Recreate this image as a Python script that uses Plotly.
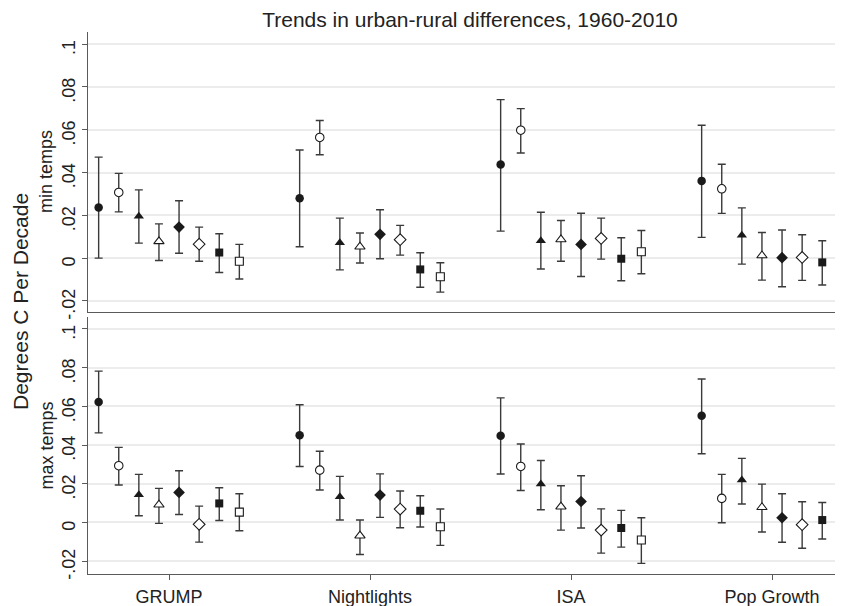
import numpy as np
import plotly.graph_objects as go

# ---------------- data ----------------
categories = ["GRUMP", "Nightlights", "ISA", "Pop Growth"]
series_names = ["S1", "S2", "S3", "S4", "S5", "S6", "S7", "S8"]

# min temps (top panel): estimate, lower CI, upper CI per series across categories
min_est = [
    [0.0237, 0.0280, 0.0438, 0.0361],
    [0.0307, 0.0564, 0.0598, 0.0324],
    [0.0196, 0.0072, 0.0081, 0.0107],
    [0.0078, 0.0053, 0.0087, 0.0012],
    [0.0145, 0.0111, 0.0064, 0.0002],
    [0.0065, 0.0086, 0.0092, 0.0003],
    [0.0026, -0.0053, -0.0003, -0.0020],
    [-0.0015, -0.0087, 0.0030, -0.0025],
]
min_lo = [
    [0.0000, 0.0053, 0.0126, 0.0097],
    [0.0216, 0.0483, 0.0491, 0.0209],
    [0.0070, -0.0055, -0.0051, -0.0028],
    [-0.0011, -0.0023, -0.0015, -0.0103],
    [0.0023, -0.0003, -0.0086, -0.0134],
    [-0.0015, 0.0014, -0.0005, -0.0104],
    [-0.0067, -0.0136, -0.0106, -0.0126],
    [-0.0098, -0.0159, -0.0073, -0.0143],
]
min_hi = [
    [0.0472, 0.0505, 0.0741, 0.0621],
    [0.0396, 0.0643, 0.0699, 0.0439],
    [0.0319, 0.0187, 0.0214, 0.0235],
    [0.0160, 0.0117, 0.0176, 0.0120],
    [0.0268, 0.0226, 0.0210, 0.0131],
    [0.0145, 0.0153, 0.0187, 0.0109],
    [0.0114, 0.0025, 0.0095, 0.0081],
    [0.0064, -0.0022, 0.0129, 0.0087],
]

# max temps (bottom panel)
max_est = [
    [0.0623, 0.0451, 0.0448, 0.0551],
    [0.0293, 0.0270, 0.0289, 0.0124],
    [0.0143, 0.0132, 0.0198, 0.0219],
    [0.0091, -0.0069, 0.0081, 0.0078],
    [0.0155, 0.0141, 0.0108, 0.0024],
    [-0.0010, 0.0069, -0.0040, -0.0012],
    [0.0098, 0.0060, -0.0029, 0.0012],
    [0.0053, -0.0023, -0.0091, -0.0014],
]
max_lo = [
    [0.0463, 0.0289, 0.0250, 0.0355],
    [0.0193, 0.0167, 0.0165, -0.0002],
    [0.0034, 0.0012, 0.0065, 0.0095],
    [-0.0005, -0.0166, -0.0040, -0.0050],
    [0.0041, 0.0026, -0.0029, -0.0103],
    [-0.0102, -0.0028, -0.0159, -0.0134],
    [0.0010, -0.0024, -0.0128, -0.0086],
    [-0.0043, -0.0119, -0.0212, -0.0136],
]
max_hi = [
    [0.0782, 0.0608, 0.0644, 0.0741],
    [0.0388, 0.0368, 0.0405, 0.0248],
    [0.0248, 0.0238, 0.0320, 0.0331],
    [0.0176, 0.0012, 0.0189, 0.0198],
    [0.0267, 0.0251, 0.0241, 0.0148],
    [0.0084, 0.0162, 0.0070, 0.0107],
    [0.0179, 0.0138, 0.0062, 0.0103],
    [0.0148, 0.0069, 0.0024, 0.0107],
]

y_tickvals = [-0.02, 0, 0.02, 0.04, 0.06, 0.08, 0.1]
y_ticktext = ["-.02", "0", ".02", ".04", ".06", ".08", ".1"]

# ---------------- styles ----------------
symbols = ["circle", "circle-open", "triangle-up", "triangle-up-open",
           "diamond", "diamond-open", "square", "square-open"]
sizes = [8.5, 8.5, 9, 9, 9, 9, 8, 8]
FONT = "Liberation Sans, Arial, Helvetica, sans-serif"
INK = "#1a1a1a"
BAR = "#3a3a3a"
AX = "#5a5a5a"
GRID = "#ececec"

n_series = len(series_names)
offsets = (np.arange(n_series) - (n_series - 1) / 2) * 0.1
cat_pos = np.arange(1, len(categories) + 1)

fig = go.Figure()


def add_panel(est, lo, hi, xa, ya):
    for i in range(n_series):
        e = np.array(est[i]); l = np.array(lo[i]); h = np.array(hi[i])
        hollow = symbols[i].endswith("-open")
        base = symbols[i].replace("-open", "")
        fig.add_trace(go.Scatter(
            x=cat_pos + offsets[i], y=e, mode="markers",
            name=series_names[i], showlegend=False,
            xaxis=xa, yaxis=ya, cliponaxis=True,
            error_y=dict(type="data", symmetric=False, array=h - e,
                         arrayminus=e - l, color=BAR, thickness=1.4, width=4),
            marker=dict(symbol=base, size=sizes[i],
                        color="white" if hollow else INK,
                        line=dict(color=INK, width=1.1 if hollow else 0)),
        ))


add_panel(min_est, min_lo, min_hi, "x2", "y2")
add_panel(max_est, max_lo, max_hi, "x", "y")

# page body has an 8px margin: figure coords = screen coords - 8
OFF = 8
W, H = 835, 606 - OFF
ml, mr, mt, mb = 88 - OFF, 0, 32 - OFF, 606 - 574
ph = H - mt - mb
pw = W - ml - mr
top_dom = [1 - (312 - 32) / ph, 1.0]
bot_dom = [0.0, 1 - (317 - 32) / ph]

px_per_cat = 201.0
first_cat_px = 169.0
xr = [1 - (first_cat_px - 88) / px_per_cat,
      1 + (88 + pw - first_cat_px) / px_per_cat]

yaxis_common = dict(
    tickvals=y_tickvals, ticktext=y_ticktext, tickangle=-90,
    showgrid=True, gridcolor=GRID, gridwidth=1.5, zeroline=False,
    showline=True, linecolor=AX, linewidth=1.3,
    ticks="outside", ticklen=5, tickcolor=AX, tickwidth=1,
    tickfont=dict(family=FONT, size=18, color="#222"),
    ticklabelshift=6, automargin=False,
)

fig.update_layout(
    width=W, height=H,
    margin=dict(l=ml, r=mr, t=mt, b=mb, pad=0, autoexpand=False),
    paper_bgcolor="white", plot_bgcolor="white",
    font=dict(family=FONT, color="#222"),
    title=dict(text="Trends in urban-rural differences, 1960-2010",
               x=(470 - OFF) / W, xref="container", xanchor="center",
               y=1 - (20 - OFF) / H, yref="container", yanchor="middle",
               font=dict(family=FONT, size=21, color="#222")),
    xaxis=dict(domain=[0, 1], anchor="y", range=xr,
               tickvals=list(cat_pos), ticktext=categories,
               showgrid=False, zeroline=False, automargin=False,
               showline=True, linecolor=AX, linewidth=1.3,
               ticks="outside", ticklen=5, tickcolor=AX,
               ticklabelstandoff=1,
               tickfont=dict(family=FONT, size=18, color="#222")),
    xaxis2=dict(domain=[0, 1], anchor="y2", range=xr, matches="x",
                showticklabels=False, ticks="", showgrid=False, zeroline=False,
                automargin=False,
                showline=True, linecolor=AX, linewidth=1.3),
    yaxis=dict(domain=bot_dom, anchor="x", range=[-0.0267, 0.1062],
               **yaxis_common),
    yaxis2=dict(domain=top_dom, anchor="x2", range=[-0.0252, 0.1057],
                **yaxis_common),
)

# dotted zero reference lines
for xd, yd in (("x domain", "y"), ("x2 domain", "y2")):
    fig.add_shape(type="line", xref=xd, yref=yd, x0=0, x1=1, y0=0, y1=0,
                  line=dict(color="#333", width=1, dash="dot"), layer="below")

# axis titles (positions in screen px converted to paper coords)
fig.add_annotation(text="Degrees C Per Decade", textangle=-90,
                   xref="paper", yref="paper", x=-(88 - 20) / pw,
                   y=1 - (302 - 32) / ph, xanchor="center", yanchor="middle",
                   showarrow=False, font=dict(family=FONT, size=21, color="#222"))
for lab, ycen in (("min temps", 172), ("max temps", 445.5)):
    fig.add_annotation(text=lab, textangle=-90,
                       xref="paper", yref="paper", x=-(88 - 46) / pw,
                       y=1 - (ycen - 32) / ph, xanchor="center", yanchor="middle",
                       showarrow=False, font=dict(family=FONT, size=18, color="#222"))

fig.write_html("out.html")
